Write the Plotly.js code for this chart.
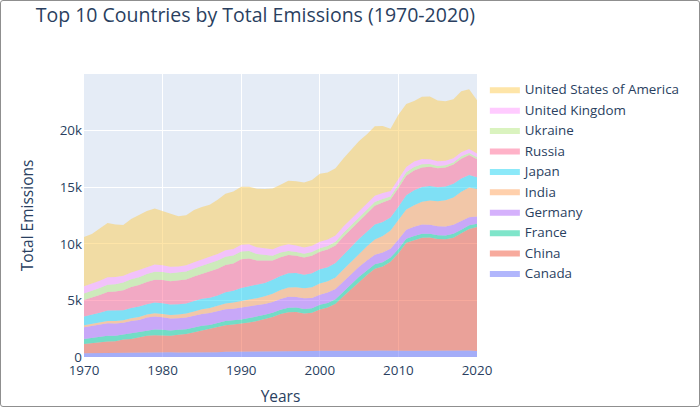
<!DOCTYPE html>
<html>
<head>
<meta charset="utf-8">
<script src="https://cdn.plot.ly/plotly-3.0.1.min.js"></script>
<style>
html, body { margin: 0; padding: 0; background: #fff; }
#wrap { position: relative; width: 700px; height: 407px; }
#chart { width: 700px; height: 407px; }
#frame { position: absolute; left: 0; top: 0; width: 700px; height: 407px; box-sizing: border-box; border: 1.5px solid #8f8f8f; border-radius: 3px; pointer-events: none; }
</style>
</head>
<body>
<div id="wrap"><div id="chart"></div><div id="frame"></div></div>
<script>
const years = [];
for (let y = 1970; y <= 2020; y++) years.push(y);

const countries = ["Canada", "China", "France", "Germany", "India", "Japan", "Russia", "Ukraine", "United Kingdom", "United States of America"];

const canada = [340,350,375,390,395,395,400,410,420,440,440,430,405,400,415,420,410,430,455,460,450,440,455,455,470,480,495,510,515,530,555,545,550,565,565,560,550,575,560,530,545,555,555,565,565,565,555,565,575,575,530];
const china = [800,880,930,970,990,1150,1200,1320,1460,1490,1470,1450,1560,1640,1780,1940,2050,2200,2360,2410,2480,2600,2720,2900,3070,3320,3460,3470,3330,3370,3650,3820,4150,4800,5420,6130,6700,7220,7430,7880,8620,9530,9780,9960,9990,9860,9840,9980,10350,10740,10960];
const france = [460,470,490,520,500,450,500,480,500,510,500,460,440,420,400,390,370,370,360,380,380,400,390,370,370,380,390,385,405,400,400,405,400,405,405,410,400,390,385,370,375,355,355,355,325,330,335,340,325,315,275];
const germany = [1030,1040,1060,1100,1070,1020,1080,1060,1100,1140,1100,1060,1020,1020,1040,1050,1050,1040,1040,1020,1050,1010,970,960,950,950,970,940,935,905,900,920,900,900,890,865,870,850,855,790,830,810,815,835,795,800,805,790,760,705,645];
const india = [180,190,200,210,220,240,250,265,270,290,295,320,340,365,380,415,440,475,510,550,580,620,660,690,730,780,820,860,880,950,980,995,1020,1060,1120,1180,1260,1350,1460,1600,1680,1770,1910,1990,2150,2200,2310,2420,2590,2630,2440];
const japan = [770,800,850,920,910,870,900,930,920,950,950,920,890,890,940,920,920,920,990,1030,1160,1170,1180,1170,1230,1240,1260,1250,1210,1250,1270,1250,1280,1290,1290,1300,1280,1310,1240,1160,1220,1270,1310,1320,1270,1230,1210,1200,1160,1120,1040];
const russia = [1450,1510,1580,1640,1700,1780,1850,1900,1960,2000,2040,2060,2090,2120,2160,2220,2300,2370,2420,2400,2530,2470,2150,1950,1700,1670,1620,1530,1510,1540,1550,1560,1560,1610,1620,1630,1670,1670,1710,1590,1670,1730,1760,1720,1710,1690,1680,1700,1760,1750,1580];
const ukraine = [570,590,610,630,650,670,680,690,700,710,710,700,700,700,700,700,710,720,720,710,690,650,570,500,430,410,360,340,330,330,310,310,315,325,320,320,325,330,315,265,285,295,295,285,245,200,215,195,205,195,185];
const uk = [660,650,645,660,630,600,610,620,620,650,590,570,560,555,550,570,580,580,580,590,600,605,590,575,570,565,585,560,565,560,565,575,560,570,570,565,565,555,540,490,505,465,480,470,430,410,385,375,370,355,315];
const usa = [4331,4393,4620,4800,4630,4480,4720,4860,4940,4940,4780,4640,4430,4420,4630,4630,4630,4790,4990,5060,5120,5070,5170,5270,5360,5420,5610,5690,5730,5810,6010,5910,5950,6000,6110,6130,6050,6130,5920,5480,5680,5560,5350,5480,5530,5380,5250,5210,5380,5260,4710];

const series = [canada, china, france, germany, india, japan, russia, ukraine, uk, usa];
const colors = ["#636efa", "#EF553B", "#00cc96", "#ab63fa", "#FFA15A", "#19d3f3", "#FF6692", "#B6E880", "#FF97FF", "#FECB52"];
const yTickVals = [0, 5000, 10000, 15000, 20000];
const yTickText = ["0", "5k", "10k", "15k", "20k"];
const xTickVals = [1970, 1980, 1990, 2000, 2010, 2020];

function fade(hex, a) {
  const n = parseInt(hex.slice(1), 16);
  return "rgba(" + ((n >> 16) & 255) + "," + ((n >> 8) & 255) + "," + (n & 255) + "," + a + ")";
}

const traces = countries.map((name, i) => ({
  type: "scatter",
  mode: "lines",
  name: name,
  x: years,
  y: series[i],
  stackgroup: "one",
  line: { width: 0, color: colors[i] },
  fillcolor: fade(colors[i], 0.5),
  hoverinfo: "x+y+name"
}));

const layout = {
  width: 700,
  height: 407,
  margin: { l: 84, r: 223, t: 74, b: 50 },
  paper_bgcolor: "#ffffff",
  plot_bgcolor: "#E5ECF6",
  colorway: colors,
  font: { family: "'Open Sans', verdana, arial, sans-serif", size: 13.4, color: "#2a3f5f" },
  title: { text: "Top 10 Countries by Total Emissions (1970-2020)", x: 0.051, xanchor: "left", y: 0.962, yanchor: "middle", font: { size: 19.5, color: "#2a3f5f" } },
  xaxis: {
    title: { text: "Years", font: { size: 15.5 } },
    range: [1970, 2020],
    tickvals: xTickVals,
    gridcolor: "#ffffff",
    zeroline: false,
    showline: false,
    ticks: "",
    ticklabelstandoff: 4
  },
  yaxis: {
    title: { text: "Total Emissions", font: { size: 15.5 }, standoff: 22 },
    range: [0, 25000],
    tickvals: yTickVals,
    ticktext: yTickText,
    gridcolor: "#ffffff",
    zeroline: true,
    zerolinecolor: "#ffffff",
    showline: false,
    ticks: "",
    ticklabelstandoff: 1
  },
  legend: { traceorder: "reversed", x: 1.02, y: 1, font: { size: 13.4 } },
  showlegend: true
};

Plotly.newPlot("chart", traces, layout, { displayModeBar: false, responsive: false });
</script>
</body>
</html>
